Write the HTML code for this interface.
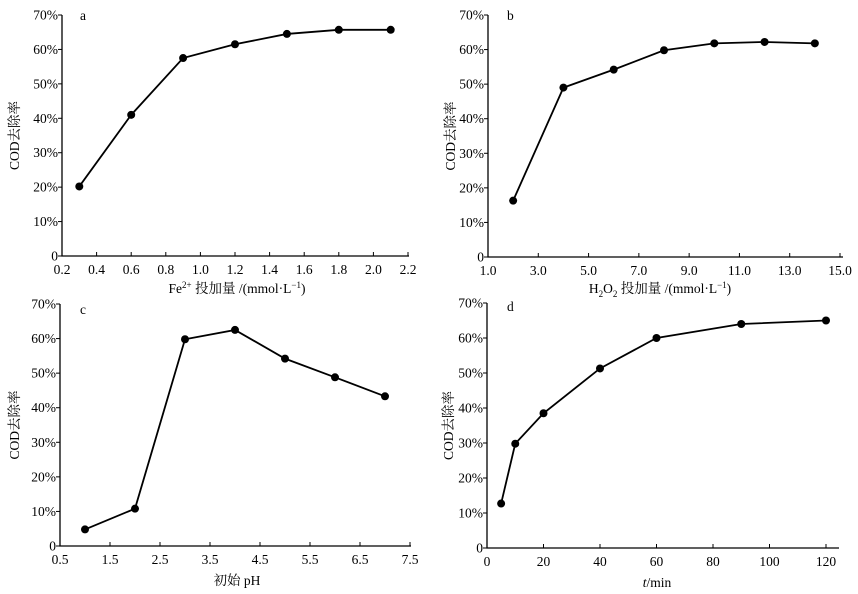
<!DOCTYPE html>
<html><head><meta charset="utf-8"><style>
body{margin:0;background:#fff}
svg{display:block;font-family:"Liberation Serif","Noto Serif CJK SC",serif;font-size:13.5px}
</style></head><body>
<svg id="s" width="858" height="594" xmlns="http://www.w3.org/2000/svg"></svg>
<script>
const S=document.getElementById('s');let h='';
function panel(o){
 const {x0,x1,xmin,xmax,y0,ytop,ticks,fmt,data,axisEnd,label,lx,ly,title,tx,ty,ytx}=o;
 const X=v=>x0+(v-xmin)/(xmax-xmin)*(x1-x0), Y=v=>y0-(v/70)*(y0-ytop);
 h+=`<path d="M${x0} ${ytop}V${y0}H${axisEnd}" stroke="#000" stroke-width="1.3" fill="none"/>`;
 for(let i=0;i<=7;i++){const y=Y(i*10);h+=`<line x1="${x0-4}" x2="${x0}" y1="${y}" y2="${y}" stroke="#000"/>`;
  h+=`<text x="${x0-4}" y="${y+4.5}" text-anchor="end">${i?i*10+'%':'0'}</text>`;}
 ticks.forEach(t=>{const x=X(t);h+=`<line x1="${x}" x2="${x}" y1="${y0}" y2="${y0-4}" stroke="#000"/>`;
  h+=`<text x="${x}" y="${y0+18}" text-anchor="middle">${fmt(t)}</text>`;});
 h+=`<polyline points="${data.map(d=>X(d[0])+','+Y(d[1])).join(' ')}" fill="none" stroke="#000" stroke-width="1.8"/>`;
 data.forEach(d=>h+=`<circle cx="${X(d[0])}" cy="${Y(d[1])}" r="4" fill="#000"/>`);
 h+=`<text x="${lx}" y="${ly}">${label}</text>`;
 h+=`<text transform="translate(${ytx},${(y0+ytop)/2}) rotate(-90)" text-anchor="middle">COD去除率</text>`;
 h+=`<text x="${tx}" y="${ty}" text-anchor="middle">${title}</text>`;
}
const r=(a,b,s)=>{let o=[];for(let v=a;v<=b+1e-9;v+=s)o.push(+v.toFixed(2));return o};
panel({x0:62,x1:408,xmin:0.2,xmax:2.2,y0:256,ytop:15,ticks:r(0.2,2.2,0.2),fmt:t=>t.toFixed(1),axisEnd:409,
 data:[[0.3,20.2],[0.6,41],[0.9,57.5],[1.2,61.5],[1.5,64.5],[1.8,65.7],[2.1,65.7]],label:'a',lx:80,ly:20,
 title:'Fe<tspan dy="-5" font-size="9">2+</tspan><tspan dy="5"> 投加量 /(mmol·L</tspan><tspan dy="-5" font-size="9">−1</tspan><tspan dy="5">)</tspan>',tx:237,ty:293,ytx:19});
panel({x0:488,x1:840,xmin:1,xmax:15,y0:257,ytop:15,ticks:r(1,15,2),fmt:t=>t.toFixed(1),axisEnd:843,
 data:[[2,16.3],[4,49],[6,54.2],[8,59.8],[10,61.8],[12,62.2],[14,61.8]],label:'b',lx:507,ly:20,
 title:'H<tspan dy="4" font-size="9">2</tspan><tspan dy="-4">O</tspan><tspan dy="4" font-size="9">2</tspan><tspan dy="-4"> 投加量 /(mmol·L</tspan><tspan dy="-5" font-size="9">−1</tspan><tspan dy="5">)</tspan>',tx:660,ty:293,ytx:455});
panel({x0:60,x1:410,xmin:0.5,xmax:7.5,y0:546,ytop:304,ticks:r(0.5,7.5,1),fmt:t=>t.toFixed(1),axisEnd:411,
 data:[[1,4.8],[2,10.8],[3,59.8],[4,62.5],[5,54.2],[6,48.8],[7,43.3]],label:'c',lx:80,ly:314,
 title:'初始 pH',tx:237,ty:585,ytx:19});
panel({x0:487,x1:826,xmin:0,xmax:120,y0:548,ytop:303,ticks:r(0,120,20),fmt:t=>t,axisEnd:839,
 data:[[5,12.7],[10,29.8],[20,38.5],[40,51.3],[60,60],[90,64],[120,65]],label:'d',lx:507,ly:311,
 title:'<tspan font-style="italic">t</tspan>/min',tx:657,ty:587,ytx:453});
S.innerHTML=h;
</script>
</body></html>
